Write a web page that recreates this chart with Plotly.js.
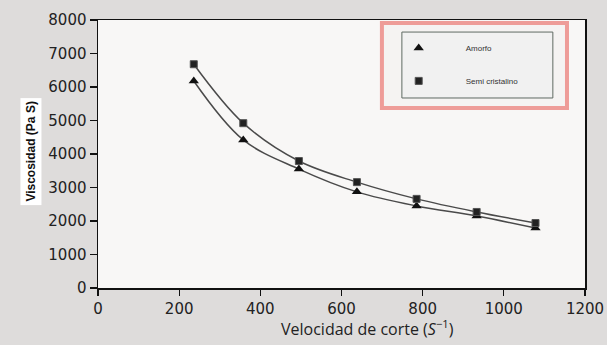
<!DOCTYPE html>
<html>
<head>
<meta charset="utf-8">
<script src="https://cdn.plot.ly/plotly-3.0.1.min.js"></script>
<style>html,body{margin:0;padding:0;background:#dedcdb;}#chart{width:607px;height:345px;}</style>
</head>
<body>
<div id="chart"></div>
<script>
// Data
const shearRate = [236, 358, 495, 638, 785, 933, 1078];
const amorfo = [6180, 4420, 3550, 2870, 2450, 2150, 1790];
const semiCristalino = [6680, 4920, 3790, 3160, 2660, 2270, 1940];
const seriesNames = ['Amorfo', 'Semi cristalino'];
const xTicks = [0, 200, 400, 600, 800, 1000, 1200];
const yTicks = [0, 1000, 2000, 3000, 4000, 5000, 6000, 7000, 8000];

const lineStyle = {color: '#4a4a4a', width: 1.5, shape: 'spline', smoothing: 1};

const traces = [
  {x: shearRate, y: amorfo, mode: 'lines', line: lineStyle, showlegend: false, hoverinfo: 'skip'},
  {x: shearRate, y: semiCristalino, mode: 'lines', line: lineStyle, showlegend: false, hoverinfo: 'skip'},
  {x: shearRate, y: amorfo, mode: 'markers', name: seriesNames[0], legendgroup: 'a',
   marker: {symbol: 'triangle-up', size: 9, color: '#111'}},
  {x: shearRate, y: semiCristalino, mode: 'markers', name: seriesNames[1], legendgroup: 's',
   marker: {symbol: 'square', size: 7, color: '#222', line: {color: '#555', width: 1}}}
];

const tickFont = {family: 'DejaVu Sans, Arial, sans-serif', size: 15, color: '#222'};

const layout = {
  width: 607, height: 345,
  margin: {l: 98, r: 22, t: 20, b: 57},
  paper_bgcolor: '#dedcdb',
  plot_bgcolor: '#f8f7f6',
  showlegend: true,
  legend: {
    x: 0.562, xanchor: 'left', y: 0.95, yanchor: 'top',
    bgcolor: 'rgba(0,0,0,0)', borderwidth: 0,
    font: {family: 'Liberation Sans, Arial, sans-serif', size: 8, color: '#333'},
    tracegroupgap: 14, itemwidth: 84
  },
  xaxis: {
    range: [0, 1200], tickvals: xTicks, ticktext: xTicks.map(String),
    showgrid: false, zeroline: false, showline: true, linecolor: '#111', linewidth: 1.5,
    mirror: true, ticks: 'outside', ticklen: 6, tickwidth: 1.2, tickcolor: '#111',
    tickfont: tickFont
  },
  yaxis: {
    range: [0, 8000], tickvals: yTicks, ticktext: yTicks.map(String),
    showgrid: false, zeroline: false, showline: true, linecolor: '#111', linewidth: 1.5,
    mirror: true, ticks: 'outside', ticklen: 7, tickwidth: 1.2, tickcolor: '#111',
    tickfont: tickFont
  },
  shapes: [
    {type: 'rect', xref: 'paper', yref: 'paper', x0: 0.583, x1: 0.963, y0: 0.672, y1: 0.989,
     fillcolor: '#f5f3f2', line: {color: '#ee9c98', width: 4}, layer: 'above'},
    {type: 'rect', xref: 'paper', yref: 'paper', x0: 0.624, x1: 0.934, y0: 0.709, y1: 0.955,
     fillcolor: '#f1f1f1', line: {color: '#5f6a63', width: 1}, layer: 'above'}
  ],
  annotations: [
    {text: '<b>Viscosidad (Pa S)</b>', xref: 'paper', yref: 'paper', x: -0.137, y: 0.51,
     xanchor: 'center', yanchor: 'middle',
     textangle: -90, showarrow: false, bgcolor: '#ffffff', borderpad: 3,
     font: {family: 'Liberation Sans, Arial, sans-serif', size: 12, color: '#111'}},
    {text: 'Velocidad de corte (<i>S</i><sup>−1</sup>)', xref: 'paper', yref: 'paper', x: 0.554, y: -0.15,
     xanchor: 'center', yanchor: 'middle', showarrow: false,
     font: {family: 'Open Sans, Liberation Sans, sans-serif', size: 16, color: '#222'}}
  ]
};

Plotly.newPlot('chart', traces, layout, {displayModeBar: false, staticPlot: true});
</script>
</body>
</html>
